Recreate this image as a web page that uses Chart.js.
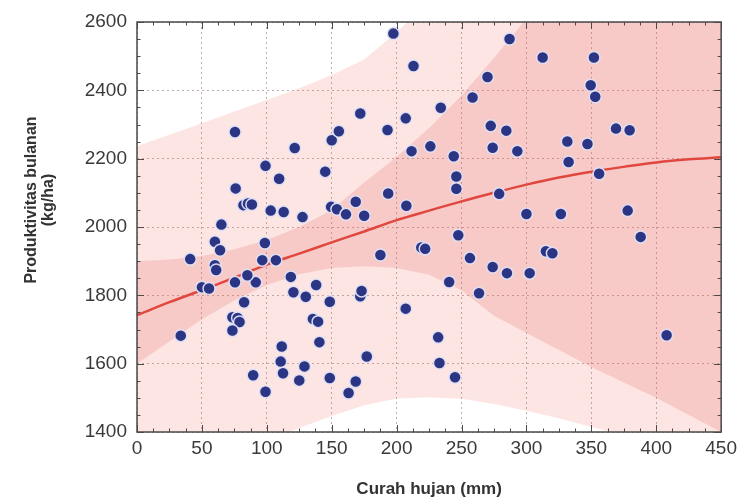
<!DOCTYPE html>
<html><head><meta charset="utf-8">
<script src="https://cdn.jsdelivr.net/npm/chart.js@4.4.1/dist/chart.umd.min.js"></script>
<style>html,body{margin:0;padding:0;background:#fff;overflow:hidden}canvas{display:block}</style>
</head><body>
<canvas id="c" width="742" height="503"></canvas>
<script>
// ---- data ----
const curahHujan = [33.7,41,50,55.5,60,64,60,61,65,73.5,77.5,79,73.5,75.5,91.5,75.5,76,82,85.5,88.5,82.5,85,89.5,96.5,98.5,99,99,103,107,109.5,111.5,110.7,112.5,113,118.5,120.5,121.5,125,127.5,129,130,135.5,139.5,138,140.5,145,148.5,148.5,149.5,150,154,155.5,161,163,168.5,168.5,172,173,172,175,177,187.5,193,193.5,197.5,207,207,207.5,211.5,213,219,222,226,232,233,234,240.5,244,245,246,246,247.5,256.5,258.5,263.5,270,272.5,274,274,279,284.5,285,287,293,300,302.5,312.5,315,320,326.5,331.5,332.5,347,349.5,352,353,356,369,378,379.5,388,408];
const produktivitas = [1682,1906,1824,1820,1957,1932,1888,1874,2007,1736,1734,1722,1697,1838,1838,2278,2113,2064,2069,2066,1780,1859,1566,1903,1953,2179,1518,2048,1903,2141,1650,1606,1572,2044,1854,1809,2231,1551,2029,1592,1796,1731,1723,1830,1663,2162,1781,1558,2059,2254,2052,2280,2037,1514,2074,1548,1797,1813,2332,2033,1621,1918,2284,2098,2566,1761,2318,2062,2222,2471,1940,1936,2236,1677,1602,2349,1839,2207,1560,2148,2112,1976,1909,2379,1806,2439,2296,2232,1883,2097,2282,1865,2550,2222,2038,1865,2496,1929,1923,2038,2250,2190,2243,2415,2496,2381,2156,2288,2048,2283,1971,1683];

const bandX     = [0,25,50,75,100,125,150,175,200,225,250,275,300,325,350,375,400,425,450];
const fitY      = [1742,1780,1815,1852,1890,1922,1955,1987,2020,2048,2075,2100,2124,2145,2162,2176,2189,2198,2204];
const confUpper = [1900,1905,1915,1935,1962,2000,2050,2130,2205,2290,2385,2495,2610,2730,2850,2980,3110,3250,3400];
const confLower = [1600,1665,1730,1785,1830,1862,1880,1885,1880,1860,1815,1740,1690,1640,1590,1545,1500,1450,1400];
const predUpper = [2236,2270,2304,2338,2372,2406,2445,2490,2570,2660,2760,2870,2990,3110,3230,3350,3470,3590,3710];
const predLower = [1180,1240,1290,1335,1375,1412,1447,1478,1498,1502,1497,1482,1462,1440,1415,1390,1362,1330,1300];

const xTickValues = [0,50,100,150,200,250,300,350,400,450];
const yTickValues = [1400,1600,1800,2000,2200,2400,2600];

const xTitle = 'Curah hujan (mm)';
const yTitle = ['Produktivitas bulanan','(kg/ha)'];

// ---- build ----
const pts = (ys) => bandX.map((x,i)=>({x, y: ys[i]}));
const scatterPts = curahHujan.map((x,i)=>({x, y: produktivitas[i]}));
const FONT = "'Liberation Sans', Arial, Helvetica, sans-serif";

const framePlugin = {
  id: 'frame',
  afterDraw(chart){
    const {ctx, chartArea:a, scales:{x, y}} = chart;
    ctx.save();
    ctx.strokeStyle = '#4a4a4a';
    ctx.lineWidth = 1.5;
    ctx.strokeRect(a.left, a.top, a.right-a.left, a.bottom-a.top);
    ctx.lineWidth = 1;
    ctx.beginPath();
    const xmin = xTickValues[0], xmax = xTickValues[xTickValues.length-1];
    const xstep = (xTickValues[1]-xTickValues[0])/4;
    for (let k=0; xmin+k*xstep<=xmax+1e-6; k++){
      const px = Math.round(x.getPixelForValue(xmin+k*xstep))+0.5;
      const L = k%4===0 ? 7 : 3.5;
      ctx.moveTo(px, a.bottom); ctx.lineTo(px, a.bottom-L);
      ctx.moveTo(px, a.top); ctx.lineTo(px, a.top+L);
    }
    const ymin = yTickValues[0], ymax = yTickValues[yTickValues.length-1];
    const ystep = (yTickValues[1]-yTickValues[0])/4;
    for (let k=0; ymin+k*ystep<=ymax+1e-6; k++){
      const py = Math.round(y.getPixelForValue(ymin+k*ystep))+0.5;
      const L = k%4===0 ? 7 : 3.5;
      ctx.moveTo(a.left, py); ctx.lineTo(a.left+L, py);
      ctx.moveTo(a.right, py); ctx.lineTo(a.right-L, py);
    }
    ctx.stroke();
    // y axis title
    ctx.fillStyle = '#333';
    ctx.font = 'bold 16px ' + FONT;
    ctx.textAlign = 'center';
    ctx.textBaseline = 'middle';
    ctx.translate(32, 200);
    ctx.rotate(-Math.PI/2);
    yTitle.forEach((t,i)=>ctx.fillText(t, 0, i*17));
    ctx.restore();
  }
};

const bandCommon = {showLine:true, pointRadius:0, borderWidth:0, borderColor:'rgba(0,0,0,0)'};

new Chart(document.getElementById('c'), {
  type: 'scatter',
  data: {
    datasets: [
      {...bandCommon, data: pts(predUpper), fill: '+1', backgroundColor: 'rgba(238,100,88,0.17)', order: 5},
      {...bandCommon, data: pts(predLower), fill: false, order: 5},
      {...bandCommon, data: pts(confUpper), fill: '+1', backgroundColor: 'rgba(232,95,85,0.2)', order: 4},
      {...bandCommon, data: pts(confLower), fill: false, order: 4},
      {data: pts(fitY), showLine:true, pointRadius:0, borderColor:'#e0473f', borderWidth:2.5, cubicInterpolationMode:'monotone', fill:false, order: 1},
      {data: scatterPts, pointRadius:6, backgroundColor:'#2c3484', borderColor:'rgba(226,226,246,0.95)', borderWidth:1.5, order: 0}
    ]
  },
  options: {
    responsive: false,
    animation: false,
    events: [],
    layout: {padding: {top: 22, right: 20, bottom: 0, left: 0}},
    plugins: {legend: {display:false}, tooltip: {enabled:false}},
    scales: {
      x: {
        type: 'linear', min: xTickValues[0], max: xTickValues[xTickValues.length-1],
        afterBuildTicks: s => { s.ticks = xTickValues.map(v=>({value:v})); },
        afterFit: s => { s.height = 71; },
        grid: {color: 'rgba(150,120,120,0.6)', lineWidth: 1, drawTicks: false},
        border: {display: false, dash: [2,3]},
        ticks: {color:'#3a3a3a', font:{family:FONT, size:19}, padding: 5, maxRotation:0, callback: v => String(v)},
        title: {display:true, text:xTitle, color:'#333', font:{family:FONT, size:17, weight:'bold'}, padding:{top:0, bottom:3}}
      },
      y: {
        type: 'linear', min: yTickValues[0], max: yTickValues[yTickValues.length-1],
        afterBuildTicks: s => { s.ticks = yTickValues.map(v=>({value:v})); },
        afterFit: s => { s.width = 137; },
        grid: {color: 'rgba(150,120,120,0.6)', lineWidth: 1, drawTicks: false},
        border: {display: false, dash: [2,3]},
        ticks: {color:'#3a3a3a', font:{family:FONT, size:19}, padding: 10, callback: v => String(v)}
      }
    }
  },
  plugins: [framePlugin]
});
</script>
</body></html>
